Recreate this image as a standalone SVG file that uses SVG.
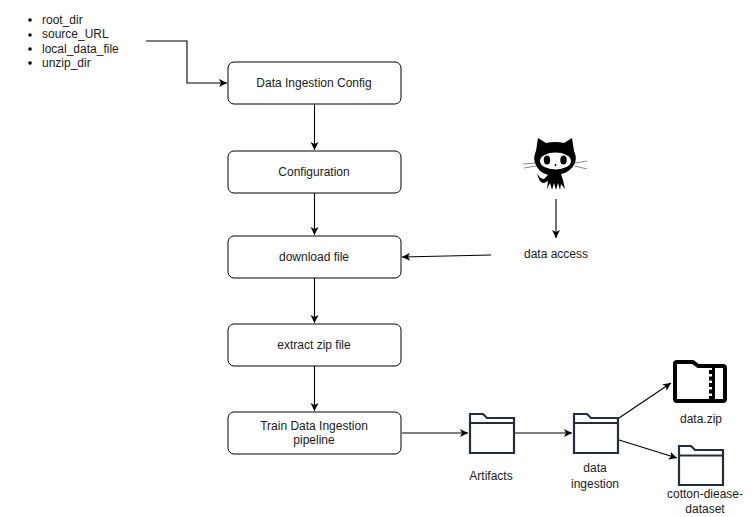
<svg xmlns="http://www.w3.org/2000/svg" width="755" height="517" viewBox="0 0 755 517">
<style>
text{font-family:"Liberation Sans",Arial,sans-serif;font-size:12px;fill:#1a1a1a;text-anchor:middle}
.l{text-anchor:start}
.box{fill:#fff;stroke:#000;stroke-width:1}
.c{fill:none;stroke:#000;stroke-width:1.1;marker-end:url(#a)}
.folder{fill:#fff;stroke:#232f3e;stroke-width:2.200;stroke-linejoin:miter}
</style>
<defs>
<marker id="a" markerUnits="userSpaceOnUse" markerWidth="10" markerHeight="10" refX="8" refY="4" orient="auto"><path d="M0 0L8 4L0 8L2 4Z" fill="#000"/></marker>
</defs>
<rect width="755" height="517" fill="#fff"/>
<g id="connectors">
<path class="c" d="M146 41H187V83H227"/>
<path class="c" d="M314.500 104V150"/>
<path class="c" d="M314.500 193V235"/>
<path class="c" d="M314.500 278V323"/>
<path class="c" d="M314.500 366V411"/>
<path class="c" d="M556 199V238"/>
<path class="c" d="M491 255L402 257"/>
<path class="c" d="M402 433H468"/>
<path class="c" d="M514 433H572"/>
<path class="c" d="M619 418L671 383"/>
<path class="c" d="M619 440L677 458"/>
</g>
<g id="params">
<circle cx="30" cy="20" r="1.800" fill="#000"/><circle cx="30" cy="35" r="1.800" fill="#000"/><circle cx="30" cy="49" r="1.800" fill="#000"/><circle cx="30" cy="63" r="1.800" fill="#000"/>
<text class="l" x="42" y="24">root_dir</text>
<text class="l" x="42" y="38">source_URL</text>
<text class="l" x="42" y="53">local_data_file</text>
<text class="l" x="42" y="67">unzip_dir</text>
</g>
<g id="node-config"><rect class="box" x="228" y="62" width="173" height="42" rx="6"/><text x="314" y="87">Data Ingestion Config</text></g>
<g id="node-configuration"><rect class="box" x="228" y="151" width="173" height="42" rx="6"/><text x="314" y="176">Configuration</text></g>
<g id="node-download"><rect class="box" x="228" y="236" width="173" height="42" rx="6"/><text x="314" y="261">download file</text></g>
<g id="node-extract"><rect class="box" x="228" y="324" width="173" height="42" rx="6"/><text x="314" y="349">extract zip file</text></g>
<g id="node-pipeline"><rect class="box" x="228" y="412" width="173" height="42" rx="6"/><text x="314" y="430">Train Data Ingestion</text><text x="314" y="444">pipeline</text></g>
<g id="node-github">
<path d="M538 138L546 143Q555 141 564 143L572 138L574 151Q577 157 575 163Q571 172 561 174L563 180L565 189L561 184L560 190L558 183L556 190L554 183L552 190L550 183L547 189L548 181L544 183Q539 183 537 173Q540 179 544 179L548 175Q538 172 535 163Q533 157 536 151Z" fill="#000"/>
<ellipse cx="555.500" cy="161" rx="15.500" ry="8.500" fill="#fff"/>
<ellipse cx="547" cy="160" rx="3.200" ry="4.500" fill="#000"/>
<ellipse cx="563.500" cy="160" rx="3.200" ry="4.500" fill="#000"/>
<circle cx="555.500" cy="165" r="1" fill="#000"/>
<path d="M523 164L536 163M524 168L536 166M575 163L587 161M575 166L587 169" stroke="#555" stroke-width=".7" fill="none"/>
</g>
<g id="node-access"><text x="556" y="258">data access</text></g>
<g id="node-artifacts">
<path class="folder" d="M470 453V414H483L487 418H514V453Z"/><path class="folder" d="M470 423H514"/>
<text x="491" y="480">Artifacts</text>
</g>
<g id="node-ingestion">
<path class="folder" d="M574 453V414H587L591 418H618V453Z"/><path class="folder" d="M574 423H618"/>
<text x="595" y="472">data</text><text x="595" y="488">ingestion</text>
</g>
<g id="node-zip">
<path d="M675 399V364Q675 362 677 362H693L698 366H723Q725 366 725 368V399Q725 401 723 401H677Q675 401 675 399Z" fill="#fff" stroke="#000" stroke-width="4" stroke-linejoin="round"/>
<path d="M713.500 366V401" fill="none" stroke="#000" stroke-width="3"/>
<path d="M711.500 370V399" fill="none" stroke="#000" stroke-width="5" stroke-dasharray="4 2.500"/>
<text x="701" y="423">data.zip</text>
</g>
<g id="node-dataset">
<path class="folder" d="M679 485V446H691L695 450H723V485Z"/><path class="folder" d="M679 455.500H723"/>
<text x="705" y="498">cotton-diease-</text><text x="705" y="513">dataset</text>
</g>
</svg>
